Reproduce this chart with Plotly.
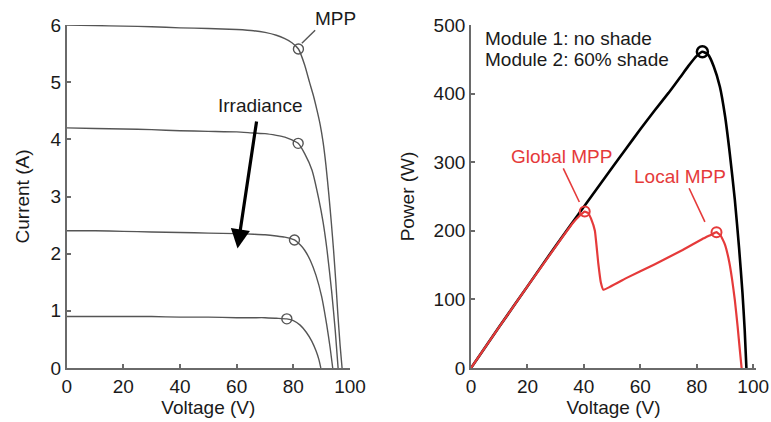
import plotly.graph_objects as go

# ---------------- Left panel: I-V curves ----------------
iv_v1 = [0, 10, 20, 30, 40, 50, 60, 66, 70, 74, 77, 79.5, 81.8, 84, 85.7, 87, 88.3, 89.5, 90.5, 91.5, 92.5, 93.4, 94.2, 95, 95.7, 96.5, 97.2]
iv_i1 = [6.0, 5.99, 5.98, 5.97, 5.95, 5.94, 5.92, 5.9, 5.87, 5.82, 5.76, 5.69, 5.58, 5.3, 5.0, 4.78, 4.52, 4.25, 3.95, 3.55, 3.05, 2.55, 2.06, 1.5, 0.95, 0.4, 0]

iv_v2 = [0, 10, 20, 30, 40, 50, 60, 66, 70, 74, 77, 79.5, 81.7, 84, 86.6, 89, 90.5, 91.9, 93.5, 94.8, 95.8]
iv_i2 = [4.2, 4.19, 4.18, 4.17, 4.15, 4.14, 4.13, 4.11, 4.1, 4.07, 4.04, 3.99, 3.93, 3.75, 3.46, 2.95, 2.55, 2.06, 1.35, 0.65, 0]

iv_v3 = [0, 10, 20, 30, 40, 50, 60, 66, 70, 74, 77, 80.4, 82.5, 84, 86, 88, 90, 91.8, 93, 93.9]
iv_i3 = [2.4, 2.4, 2.39, 2.38, 2.37, 2.36, 2.35, 2.34, 2.33, 2.31, 2.29, 2.24, 2.15, 2.06, 1.88, 1.62, 1.25, 0.75, 0.35, 0]

iv_v4 = [0, 10, 20, 30, 40, 50, 60, 66, 70, 74, 77.7, 80, 82.4, 84.5, 86.5, 88, 89, 89.7]
iv_i4 = [0.9, 0.9, 0.9, 0.9, 0.89, 0.89, 0.88, 0.88, 0.88, 0.87, 0.86, 0.83, 0.75, 0.63, 0.47, 0.3, 0.15, 0]

mpp_v = [81.8, 81.7, 80.4, 77.7]
mpp_i = [5.58, 3.93, 2.24, 0.86]

# ---------------- Right panel: P-V curves ----------------
pv_v_noshade = [0, 10, 20, 30, 40, 50, 55, 60, 65, 70, 74, 77, 80, 82, 84, 86, 88.2, 90, 91.7, 93.5, 95, 96.2, 97, 97.6]
pv_p_noshade = [0, 60, 119, 178, 235, 292, 320, 348, 375, 401, 423, 440, 455, 461, 457, 440, 410, 368, 313, 245, 175, 110, 55, 0]

pv_v_shade = [0, 10, 20, 30, 36, 38.5, 40.3, 41.5, 42.5, 43.9, 45.1, 46, 46.9, 55, 65, 75, 82, 85, 87, 88.5, 90, 91.5, 92.5, 93.5, 94.5, 95.3, 95.9]
pv_p_shade = [0, 60, 119, 177, 211, 222, 228, 226, 218, 200, 153, 125, 114, 131, 151, 172, 188, 194, 198, 193, 180, 155, 130, 99, 60, 25, 0]

gmpp = (40.3, 228)
lmpp = (87, 198)
mpp_noshade = (82, 461)

x_ticks = [0, 20, 40, 60, 80, 100]
iv_yticks = [0, 1, 2, 3, 4, 5, 6]
pv_yticks = [0, 100, 200, 300, 400, 500]

GRAY = "#555555"
AX = "#6a6a6a"
RED = "#e53a3a"
FONT = "Liberation Sans, Arial, Helvetica, sans-serif"
FS = 19

fig = go.Figure()

for v, i in [(iv_v1, iv_i1), (iv_v2, iv_i2), (iv_v3, iv_i3), (iv_v4, iv_i4)]:
    fig.add_trace(go.Scatter(x=v, y=i, mode="lines", line=dict(color=GRAY, width=1.4, shape="spline", smoothing=0.5),
                             xaxis="x", yaxis="y", showlegend=False, hoverinfo="skip"))
fig.add_trace(go.Scatter(x=mpp_v, y=mpp_i, mode="markers",
                         marker=dict(symbol="circle-open", size=10, color=GRAY, line=dict(width=1.4)),
                         xaxis="x", yaxis="y", showlegend=False))

fig.add_trace(go.Scatter(x=pv_v_noshade, y=pv_p_noshade, mode="lines",
                         line=dict(color="black", width=2.6, shape="spline", smoothing=0.5),
                         xaxis="x2", yaxis="y2", showlegend=False))
fig.add_trace(go.Scatter(x=pv_v_shade, y=pv_p_shade, mode="lines",
                         line=dict(color=RED, width=2.2, shape="spline", smoothing=0.3),
                         xaxis="x2", yaxis="y2", showlegend=False))
fig.add_trace(go.Scatter(x=[mpp_noshade[0]], y=[mpp_noshade[1]], mode="markers",
                         marker=dict(symbol="circle-open", size=11, color="black", line=dict(width=2.5)),
                         xaxis="x2", yaxis="y2", showlegend=False))
fig.add_trace(go.Scatter(x=[gmpp[0], lmpp[0]], y=[gmpp[1], lmpp[1]], mode="markers",
                         marker=dict(symbol="circle-open", size=10, color=RED, line=dict(width=2)),
                         xaxis="x2", yaxis="y2", showlegend=False))

axis_common = dict(showgrid=False, zeroline=False, showline=True, linecolor=AX, linewidth=1.8,
                   ticks="inside", ticklen=4, tickwidth=1.5, tickcolor=AX,
                   tickfont=dict(size=FS, color="#1a1a1a", family=FONT))

fig.update_layout(
    width=771, height=422,
    margin=dict(l=0, r=0, t=0, b=0),
    paper_bgcolor="white", plot_bgcolor="white",
    font=dict(family=FONT, size=FS, color="#1a1a1a"),
    xaxis=dict(domain=[66.7 / 771, 350 / 771], range=[0, 100], tickvals=x_ticks, anchor="y",
               title=dict(text="Voltage (V)", standoff=4, font=dict(size=FS)), automargin=False, **axis_common),
    yaxis=dict(domain=[54 / 422, 397 / 422], range=[0, 6], tickvals=iv_yticks, anchor="x",
               title=dict(text="Current (A)", standoff=16, font=dict(size=FS)), automargin=False, **axis_common),
    xaxis2=dict(domain=[471 / 771, 756 / 771], range=[0, 101], tickvals=x_ticks, anchor="y2",
                title=dict(text="Voltage (V)", standoff=4, font=dict(size=FS)), automargin=False, **axis_common),
    yaxis2=dict(domain=[54 / 422, 397 / 422], range=[0, 500], tickvals=pv_yticks, anchor="x2",
                title=dict(text="Power (W)", standoff=14, font=dict(size=FS)), automargin=False, **axis_common),
)

# Left annotations
fig.add_annotation(x=94.8, y=(422 - 18.5) / 422, xref="x", yref="paper", text="MPP", showarrow=False,
                   font=dict(size=FS), yanchor="middle")
fig.add_shape(type="line", xref="x", yref="y", x0=83.0, y0=5.68, x1=87.7, y1=5.91, line=dict(color=GRAY, width=1.4))
fig.add_annotation(x=68.3, y=4.60, xref="x", yref="y", text="Irradiance", showarrow=False, font=dict(size=FS))
fig.add_annotation(x=60.3, y=2.09, ax=67.1, ay=4.34, xref="x", yref="y", axref="x", ayref="y", text="",
                   showarrow=True, arrowhead=2, arrowsize=1.2, arrowwidth=3.2, arrowcolor="black")

# Right annotations
fig.add_annotation(x=4.1, y=481, xref="x2", yref="y2", text="Module 1: no shade", showarrow=False,
                   xanchor="left", font=dict(size=FS))
fig.add_annotation(x=4.1, y=450, xref="x2", yref="y2", text="Module 2: 60% shade", showarrow=False,
                   xanchor="left", font=dict(size=FS))
fig.add_annotation(x=32.1, y=308, xref="x2", yref="y2", text="Global MPP", showarrow=False,
                   font=dict(size=FS, color=RED))
fig.add_shape(type="line", xref="x2", yref="y2", x0=32.7, y0=291, x1=38.4, y1=242, line=dict(color=RED, width=1.6))
fig.add_annotation(x=74.2, y=279, xref="x2", yref="y2", text="Local MPP", showarrow=False,
                   font=dict(size=FS, color=RED))
fig.add_shape(type="line", xref="x2", yref="y2", x0=77.3, y0=262, x1=82.9, y1=213, line=dict(color=RED, width=1.6))

fig.write_html("out.html", config={"displayModeBar": False},
               post_script="document.body.style.margin='0';document.body.style.overflow='hidden';")
